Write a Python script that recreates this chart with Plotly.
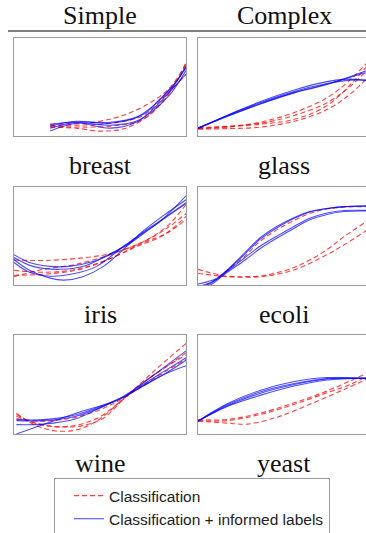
import plotly.graph_objects as go

# ---------------- data (normalized curve positions) ----------------
datasets = ["breast", "glass", "iris", "ecoli", "wine", "yeast"]
column_titles = ["Simple", "Complex"]
legend_names = ["Classification", "Classification + informed labels"]

breast_red = [
    ([0.21, 0.46, 0.65, 0.81, 0.91, 1.0], [0.12, 0.14, 0.22, 0.36, 0.50, 0.74]),
    ([0.21, 0.56, 0.75, 0.87, 0.95, 1.0], [0.10, 0.10, 0.17, 0.36, 0.57, 0.75]),
    ([0.21, 0.36, 0.50, 0.65, 0.79, 0.91, 1.0], [0.09, 0.08, 0.05, 0.08, 0.22, 0.47, 0.70]),
    ([0.21, 0.56, 0.75, 0.89, 1.0], [0.11, 0.13, 0.21, 0.43, 0.63]),
]
breast_blue = [
    ([0.21, 0.36, 0.56, 0.71, 0.81, 0.91, 1.0], [0.05, 0.13, 0.11, 0.15, 0.26, 0.43, 0.67]),
    ([0.21, 0.36, 0.56, 0.71, 0.81, 0.91, 1.0], [0.08, 0.14, 0.14, 0.19, 0.31, 0.48, 0.70]),
    ([0.21, 0.36, 0.56, 0.75, 0.85, 0.95, 1.0], [0.10, 0.15, 0.13, 0.22, 0.38, 0.57, 0.72]),
    ([0.21, 0.36, 0.56, 0.71, 0.83, 0.93, 1.0], [0.12, 0.14, 0.08, 0.14, 0.31, 0.50, 0.63]),
]

glass_red = [
    ([0, 0.17, 0.36, 0.56, 0.75, 0.88, 1.0], [0.075, 0.09, 0.14, 0.24, 0.39, 0.565, 0.78]),
    ([0, 0.36, 0.56, 0.75, 0.88, 1.0], [0.085, 0.13, 0.21, 0.34, 0.50, 0.70]),
    ([0, 0.17, 0.36, 0.56, 0.75, 0.88, 1.0], [0.07, 0.075, 0.09, 0.15, 0.27, 0.42, 0.62]),
    ([0, 0.36, 0.56, 0.75, 0.90, 1.0], [0.08, 0.12, 0.17, 0.31, 0.55, 0.75]),
]
glass_blue = [
    ([0, 0.17, 0.36, 0.56, 0.75, 1.0], [0.08, 0.205, 0.33, 0.445, 0.53, 0.66]),
    ([0, 0.17, 0.36, 0.56, 0.75, 0.88, 1.0], [0.08, 0.21, 0.34, 0.455, 0.535, 0.57, 0.57]),
    ([0, 0.17, 0.36, 0.56, 0.75, 0.86, 1.0], [0.08, 0.21, 0.35, 0.47, 0.555, 0.58, 0.56]),
    ([0, 0.17, 0.36, 0.56, 0.75, 1.0], [0.08, 0.20, 0.325, 0.44, 0.525, 0.68]),
]

iris_red = [
    ([0, 0.17, 0.36, 0.56, 0.75, 0.89, 1.0], [0.255, 0.25, 0.27, 0.32, 0.44, 0.60, 0.82]),
    ([0, 0.17, 0.36, 0.56, 0.75, 0.89, 1.0], [0.085, 0.16, 0.21, 0.31, 0.44, 0.58, 0.73]),
    ([0, 0.17, 0.36, 0.56, 0.75, 0.89, 1.0], [0.15, 0.13, 0.16, 0.27, 0.43, 0.53, 0.67]),
    ([0, 0.17, 0.36, 0.52, 0.71, 0.87, 1.0], [0.10, 0.11, 0.15, 0.24, 0.39, 0.51, 0.70]),
]
iris_blue = [
    ([0, 0.09, 0.21, 0.32, 0.46, 0.56, 0.65, 0.75, 0.85, 1.0], [0.31, 0.23, 0.19, 0.19, 0.24, 0.31, 0.41, 0.53, 0.65, 0.91]),
    ([0, 0.09, 0.21, 0.29, 0.40, 0.52, 0.64, 0.75, 0.87, 1.0], [0.26, 0.15, 0.07, 0.05, 0.085, 0.19, 0.37, 0.55, 0.71, 0.87]),
    ([0, 0.09, 0.21, 0.36, 0.48, 0.62, 0.75, 0.87, 1.0], [0.23, 0.13, 0.09, 0.12, 0.19, 0.37, 0.54, 0.68, 0.84]),
    ([0, 0.11, 0.27, 0.42, 0.56, 0.67, 0.81, 1.0], [0.28, 0.19, 0.16, 0.20, 0.32, 0.42, 0.60, 0.83]),
]

ecoli_red = [
    ([0, 0.09, 0.17, 0.27, 0.36, 0.46, 0.56, 0.65, 0.75, 0.85, 1.0], [-0.05, 0.045, 0.15, 0.29, 0.445, 0.565, 0.66, 0.73, 0.775, 0.795, 0.80]),
    ([0, 0.07, 0.17, 0.27, 0.36, 0.46, 0.56, 0.65, 0.75, 0.85, 1.0], [0.16, 0.125, 0.09, 0.085, 0.09, 0.125, 0.18, 0.255, 0.36, 0.495, 0.67]),
    ([0, 0.17, 0.36, 0.56, 0.75, 0.85, 1.0], [0.12, 0.085, 0.085, 0.155, 0.31, 0.41, 0.58]),
]
ecoli_blue = [
    ([0, 0.11, 0.17, 0.27, 0.36, 0.46, 0.56, 0.65, 0.75, 0.85, 1.0], [0.01, 0.07, 0.155, 0.325, 0.48, 0.60, 0.69, 0.75, 0.78, 0.80, 0.81]),
    ([0, 0.09, 0.17, 0.27, 0.36, 0.46, 0.56, 0.65, 0.75, 0.85, 1.0], [-0.05, 0.035, 0.14, 0.275, 0.395, 0.50, 0.60, 0.68, 0.735, 0.76, 0.76]),
    ([0, 0.09, 0.17, 0.27, 0.36, 0.46, 0.56, 0.65, 0.75, 0.85, 1.0], [-0.07, 0.02, 0.13, 0.25, 0.37, 0.48, 0.58, 0.665, 0.72, 0.75, 0.755]),
    ([0, 0.11, 0.17, 0.27, 0.36, 0.46, 0.56, 0.65, 0.75, 0.85, 1.0], [-0.02, 0.06, 0.15, 0.31, 0.465, 0.585, 0.68, 0.745, 0.78, 0.80, 0.805]),
]

wine_red = [
    ([0.014, 0.09, 0.17, 0.25, 0.36, 0.48, 0.60, 0.71, 0.83, 1.0], [0.21, 0.12, 0.06, 0.03, 0.04, 0.13, 0.30, 0.47, 0.66, 0.915]),
    ([0.014, 0.09, 0.21, 0.29, 0.40, 0.52, 0.635, 0.75, 0.87, 1.0], [0.197, 0.13, 0.08, 0.07, 0.085, 0.16, 0.35, 0.52, 0.66, 0.82]),
    ([0.014, 0.17, 0.32, 0.48, 0.635, 0.79, 1.0], [0.18, 0.088, 0.078, 0.156, 0.35, 0.57, 0.80]),
    ([0.014, 0.17, 0.36, 0.52, 0.635, 0.79, 1.0], [0.156, 0.13, 0.17, 0.26, 0.36, 0.535, 0.755]),
]
wine_blue = [
    ([0.014, 0.17, 0.36, 0.56, 0.635, 0.75, 0.87, 1.0], [0.0, 0.095, 0.21, 0.315, 0.37, 0.485, 0.60, 0.69]),
    ([0.014, 0.17, 0.36, 0.52, 0.635, 0.75, 0.87, 1.0], [0.095, 0.10, 0.155, 0.28, 0.37, 0.50, 0.63, 0.77]),
    ([0.014, 0.17, 0.36, 0.52, 0.635, 0.75, 0.87, 1.0], [0.145, 0.145, 0.195, 0.29, 0.38, 0.515, 0.67, 0.84]),
    ([0.014, 0.17, 0.36, 0.52, 0.635, 0.75, 0.87, 1.0], [0.135, 0.135, 0.18, 0.28, 0.375, 0.485, 0.60, 0.745]),
]

yeast_red = [
    ([0, 0.17, 0.36, 0.56, 0.75, 0.885, 1.0], [0.135, 0.135, 0.197, 0.30, 0.417, 0.50, 0.60]),
    ([0, 0.17, 0.36, 0.56, 0.75, 1.0], [0.146, 0.146, 0.21, 0.315, 0.434, 0.63]),
    ([0, 0.17, 0.285, 0.46, 0.65, 0.85, 1.0], [0.13, 0.11, 0.10, 0.17, 0.30, 0.45, 0.57]),
]
yeast_blue = [
    ([0, 0.17, 0.36, 0.56, 0.75, 1.0], [0.13, 0.305, 0.44, 0.53, 0.57, 0.555]),
    ([0, 0.17, 0.36, 0.56, 0.75, 1.0], [0.13, 0.295, 0.425, 0.51, 0.56, 0.56]),
    ([0, 0.17, 0.36, 0.56, 0.75, 1.0], [0.13, 0.285, 0.41, 0.50, 0.555, 0.565]),
    ([0, 0.17, 0.36, 0.56, 0.75, 1.0], [0.13, 0.278, 0.39, 0.485, 0.545, 0.565]),
]

red_curves = [breast_red, glass_red, iris_red, ecoli_red, wine_red, yeast_red]
blue_curves = [breast_blue, glass_blue, iris_blue, ecoli_blue, wine_blue, yeast_blue]

# ---------------- layout geometry (pixels) ----------------
W, H = 366, 533
col_x = [(14, 186), (198, 366)]
row_y = [(38, 136), (187, 285), (335, 434)]
RED = "rgba(255,0,0,0.75)"
BLUE = "rgba(0,0,255,0.7)"

fig = go.Figure()
layout_axes = {}
annotations = []
shown = {"red": False, "blue": False}

for i, name in enumerate(datasets):
    r, c = divmod(i, 2)
    k = i + 1
    xa = "x" if k == 1 else f"x{k}"
    ya = "y" if k == 1 else f"y{k}"
    for xs, ys in red_curves[i]:
        fig.add_trace(go.Scatter(
            x=xs, y=ys, mode="lines", xaxis=xa, yaxis=ya,
            line=dict(color=RED, width=1.1, dash="5px,3px", shape="spline"),
            name=legend_names[0], legendgroup="red", showlegend=not shown["red"],
            hoverinfo="skip"))
        shown["red"] = True
    for xs, ys in blue_curves[i]:
        fig.add_trace(go.Scatter(
            x=xs, y=ys, mode="lines", xaxis=xa, yaxis=ya,
            line=dict(color=BLUE, width=1.1, shape="spline"),
            name=legend_names[1], legendgroup="blue", showlegend=not shown["blue"],
            hoverinfo="skip"))
        shown["blue"] = True

    x0, x1 = col_x[c]
    y0, y1 = row_y[r]
    xrange = [0, (x1 - x0) / 172.0]
    layout_axes["xaxis" if k == 1 else f"xaxis{k}"] = dict(
        domain=[x0 / W, x1 / W], range=xrange, showgrid=False, zeroline=False,
        showticklabels=False, ticks="", showline=True, mirror=True,
        linecolor="#9a9a9a", linewidth=1, anchor=ya, fixedrange=True)
    layout_axes["yaxis" if k == 1 else f"yaxis{k}"] = dict(
        domain=[1 - y1 / H, 1 - y0 / H], range=[0, 1], showgrid=False, zeroline=False,
        showticklabels=False, ticks="", showline=True, mirror=(c == 0),
        linecolor="#9a9a9a", linewidth=1, anchor=xa, fixedrange=True)

    cx = 100 if c == 0 else 284
    annotations.append(dict(
        text=name, x=cx / W, y=1 - (y1 + 29) / H, xref="paper", yref="paper",
        xanchor="center", yanchor="middle", showarrow=False,
        font=dict(family="Liberation Serif", size=26, color="#111")))

for j, t in enumerate(column_titles):
    cx = 100 if j == 0 else 284
    annotations.append(dict(
        text=t, x=cx / W, y=1 - 16 / H, xref="paper", yref="paper",
        xanchor="center", yanchor="middle", showarrow=False,
        font=dict(family="Liberation Serif", size=26, color="#111")))

fig.update_layout(
    width=W, height=H,
    margin=dict(l=0, r=0, t=0, b=0, autoexpand=False),
    paper_bgcolor="white", plot_bgcolor="white",
    annotations=annotations,
    shapes=[dict(type="line", xref="paper", yref="paper",
                 x0=8 / W, x1=1, y0=1 - 31 / H, y1=1 - 31 / H,
                 line=dict(color="black", width=1.2))],
    legend=dict(x=54 / W, y=1 - 478 / H, xanchor="left", yanchor="top",
                bordercolor="#9a9a9a", borderwidth=1, bgcolor="white",
                font=dict(family="Liberation Sans", size=15.5, color="#222"),
                indentation=14, tracegroupgap=0),
    **layout_axes,
)

fig.write_html("out.html", config={"displayModeBar": False})
